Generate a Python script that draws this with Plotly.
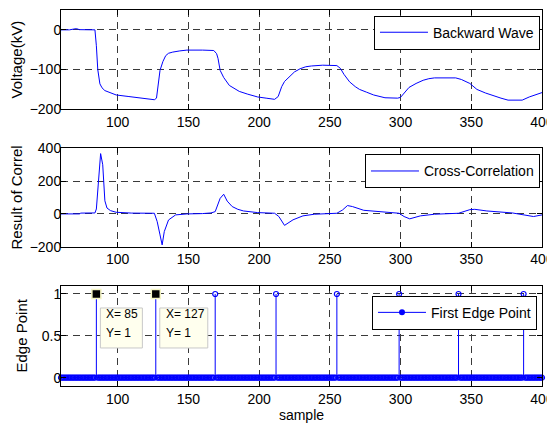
import plotly.graph_objects as go

# ---------------- data ----------------
wave_x = [60, 66, 69, 71, 73, 84, 85, 86, 87.5, 89, 91, 95, 99, 108, 116, 122, 126, 127.5, 129, 130,
          132, 134, 136, 139, 144, 149, 160, 168, 170, 171, 172.5, 175, 179, 183, 186, 192, 199, 205,
          209, 211, 213.5, 216, 218, 221, 225, 229, 233, 237, 245, 255, 257.5, 260, 264, 268, 271,
          276, 281, 289, 298, 300, 301.5, 304, 306, 311, 316, 320, 324, 339, 343, 349, 354, 360,
          366, 371, 376, 386, 391, 395, 400]
wave_y = [0, 0, 2, 3, 0.5, 0, -40, -100, -136, -146, -153, -159, -164, -168, -171, -173, -176, -172,
          -135, -102, -80, -65, -59, -56, -53, -51, -51, -52, -60, -72, -102, -120, -140, -149, -155,
          -162, -169, -172, -174, -175, -168, -143, -130, -120, -106, -98, -93, -91, -89, -90, -97,
          -112, -131, -143, -150, -157, -164, -171, -172, -170, -164, -153, -145, -135, -127, -123,
          -121, -121, -125, -135, -150, -159, -167, -172, -177, -177, -169, -164, -158]

corr_x = [60, 73, 74, 84, 85, 86.5, 88, 89.5, 91, 92.5, 95, 99, 110, 126, 128, 130, 131.5, 133, 136,
          141, 149, 160, 166, 169, 172.5, 175, 177.5, 181, 185, 189, 199, 211, 214, 218, 224, 231,
          239, 255, 259, 262.5, 266, 274, 286, 299, 302.5, 306.5, 314, 324, 341, 349, 352.5, 361,
          379, 386, 394, 400]
corr_y = [0, 0, 5, 6, 30, 180, 368, 300, 80, 36, 20, 10, 5, 4, -47, -128, -189, -108, -37, -6, 0, 2,
          6, 14, 95, 120, 78, 45, 28, 18, 8, 4, -16, -70, -36, -12, -2, 4, 24, 51, 45, 22, 12, 4,
          -16, -30, -12, -2, 4, 26, 28, 18, 6, -6, -16, -6]

samples = list(range(60, 401))
edge_points = [85, 127, 169, 212, 255, 299, 341, 387]
edge_value = [1 if s in edge_points else 0 for s in samples]
datatips = [85, 127]

x_ticks = [100, 150, 200, 250, 300, 350, 400]
y1_ticks = [-200, -100, 0]
y2_ticks = [-200, 0, 200, 400]
y3_ticks = [0, 0.5, 1]

BLUE = "#0000ff"
FONT = "Liberation Sans, Arial, sans-serif"

fig = go.Figure()

fig.add_trace(go.Scatter(x=wave_x, y=wave_y, mode="lines", name="Backward Wave",
                         line=dict(color=BLUE, width=1), xaxis="x", yaxis="y", legend="legend"))
fig.add_trace(go.Scatter(x=corr_x, y=corr_y, mode="lines", name="Cross-Correlation",
                         line=dict(color=BLUE, width=1), xaxis="x2", yaxis="y2", legend="legend2"))

# stems
stem_x, stem_y = [], []
for s, v in zip(samples, edge_value):
    if v != 0:
        stem_x += [s, s, None]
        stem_y += [0, v, None]
fig.add_trace(go.Scatter(x=stem_x, y=stem_y, mode="lines", line=dict(color=BLUE, width=1),
                         showlegend=False, xaxis="x3", yaxis="y3", hoverinfo="skip"))
# stem markers
fig.add_trace(go.Scatter(x=samples, y=edge_value, mode="markers",
                         marker=dict(symbol="circle-open", size=5, color=BLUE, line=dict(width=1.2, color=BLUE)),
                         showlegend=False, cliponaxis=False, xaxis="x3", yaxis="y3"))
# legend entry for stem
fig.add_trace(go.Scatter(x=[None], y=[None], mode="lines+markers", name="First Edge Point",
                         line=dict(color=BLUE, width=1), marker=dict(symbol="circle", size=6, color=BLUE),
                         xaxis="x3", yaxis="y3", legend="legend3"))
# datatip markers
tip_y = [edge_value[samples.index(t)] for t in datatips]
fig.add_trace(go.Scatter(x=datatips, y=tip_y, mode="markers",
                         marker=dict(symbol="square", size=9, color="black", line=dict(width=1.5, color="#f4f4c4")),
                         showlegend=False, cliponaxis=False, xaxis="x3", yaxis="y3"))

for t, ty in zip(datatips, tip_y):
    w = 30 + 6 * len(str(t))
    fig.add_shape(type="rect", xref="x3", yref="y3", xsizemode="pixel", ysizemode="pixel",
                  xanchor=t, yanchor=ty, x0=4, x1=4 + w, y0=-14, y1=-54,
                  fillcolor="#ffffee", line=dict(color="#c8c8c8", width=1), layer="above")
    fig.add_annotation(x=t, y=ty, xref="x3", yref="y3", text=f"X= {t}", showarrow=False,
                       xanchor="left", yanchor="middle", xshift=8, yshift=-20,
                       font=dict(family=FONT, size=12, color="black"))
    fig.add_annotation(x=t, y=ty, xref="x3", yref="y3", text=f"Y= {ty}", showarrow=False,
                       xanchor="left", yanchor="middle", xshift=8, yshift=-39,
                       font=dict(family=FONT, size=12, color="black"))

axis_common = dict(showline=True, linecolor="black", linewidth=1, mirror="ticks",
                   ticks="inside", ticklen=5, tickcolor="black", showgrid=True,
                   gridcolor="#3a3a3a", gridwidth=1, griddash="7px,5px", zeroline=False,
                   automargin=False,
                   tickfont=dict(family=FONT, size=14, color="black"))

xcommon = dict(axis_common, range=[60, 400], tickvals=x_ticks)
ycommon = dict(axis_common, ticklabelstandoff=-4)

fig.update_layout(
    width=547, height=422,
    margin=dict(l=53, r=13, t=2, b=44),
    paper_bgcolor="white", plot_bgcolor="white",
    font=dict(family=FONT, size=14, color="black"),
    xaxis=dict(xcommon, anchor="y"),
    xaxis2=dict(xcommon, anchor="y2"),
    xaxis3=dict(xcommon, anchor="y3",
                title=dict(text="sample", font=dict(family=FONT, size=14), standoff=4)),
    yaxis=dict(ycommon, domain=[0.736, 1.0], range=[-200, 50], tickvals=y1_ticks,
               title=dict(text="Voltage(kV)", font=dict(family=FONT, size=15), standoff=5)),
    yaxis2=dict(ycommon, domain=[0.3705, 0.632], range=[-200, 400], tickvals=y2_ticks,
                title=dict(text="Result of Correl", font=dict(family=FONT, size=15), standoff=11)),
    yaxis3=dict(ycommon, domain=[0.0, 0.267], range=[-0.1, 1.1], tickvals=y3_ticks,
                ticktext=["0", "0.5", "1"],
                title=dict(text="Edge Point", font=dict(family=FONT, size=15), standoff=10)),
)

leg_common = dict(bgcolor="white", bordercolor="black", borderwidth=1, xanchor="right",
                  yanchor="top", itemwidth=48, font=dict(family=FONT, size=14, color="black"))
fig.update_layout(
    legend=dict(leg_common, x=0.9958, y=0.985),
    legend2=dict(leg_common, x=0.9958, y=0.616),
    legend3=dict(leg_common, x=0.9896, y=0.24),
)

fig.write_html("out.html")
